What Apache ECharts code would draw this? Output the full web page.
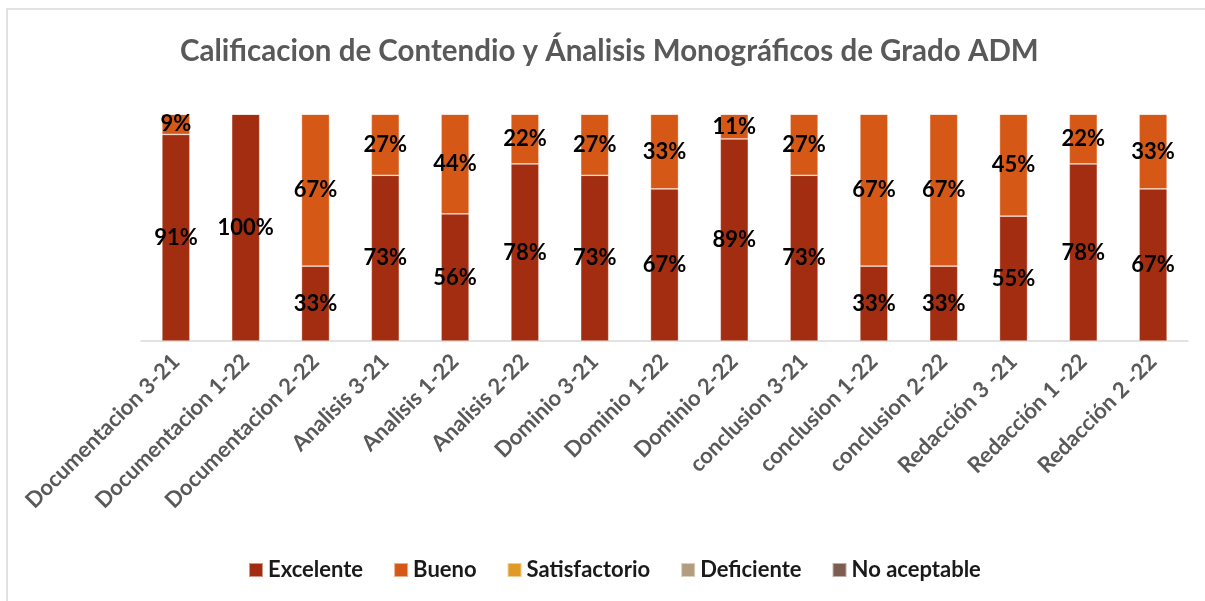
<!DOCTYPE html>
<html>
<head>
<meta charset="utf-8">
<script src="https://cdn.jsdelivr.net/npm/echarts@6/dist/echarts.min.js"></script>
<style>html,body{margin:0;padding:0;background:#fff;}#c{width:1205px;height:601px;}</style>
</head>
<body>
<div id="c"></div>
<script>
const categories = ['Documentacion 3-21','Documentacion 1-22','Documentacion 2-22','Analisis 3-21','Analisis 1-22','Analisis 2-22','Dominio 3-21','Dominio 1-22','Dominio 2-22','conclusion 3-21','conclusion 1-22','conclusion 2-22','Redacción 3 -21','Redacción 1 -22','Redacción 2 -22'];
const excelente = [91,100,33,73,56,78,73,67,89,73,33,33,55,78,67];
const bueno = [9,0,67,27,44,22,27,33,11,27,67,67,45,22,33];
const satisfactorio = [0,0,0,0,0,0,0,0,0,0,0,0,0,0,0];
const deficiente = [0,0,0,0,0,0,0,0,0,0,0,0,0,0,0];
const noAceptable = [0,0,0,0,0,0,0,0,0,0,0,0,0,0,0];
const seriesNames = ['Excelente','Bueno','Satisfactorio','Deficiente','No aceptable'];
const seriesData = [excelente,bueno,satisfactorio,deficiente,noAceptable];
const colors = ['#A32D10','#D55817','#E29A26','#B29E7F','#7E5D51'];
const FONT = 'Lato';

const chart = echarts.init(document.getElementById('c'));
chart.setOption({
  animation:false,
  color: colors,
  graphic:[{type:'rect',shape:{x:7,y:9,width:1300,height:700},style:{fill:'none',stroke:'#d9d9d9',lineWidth:1.5},silent:true}],
  title:{text:'Calificacion de Contendio y Ánalisis Monográficos de Grado ADM',left:175,top:31,
    textStyle:{fontFamily:FONT,fontWeight:'bold',fontSize:29.5,color:'#595959'}},
  legend:{bottom:15,left:243,itemWidth:14,itemHeight:14,itemGap:30,icon:'rect',
    textStyle:{fontFamily:FONT,fontWeight:'bold',fontSize:22,color:'#1a1a1a'}},
  grid:{left:141,right:17,top:114,bottom:260},
  xAxis:{type:'category',data:categories,
    axisLine:{lineStyle:{color:'#d9d9d9',width:1.5}},axisTick:{show:false},
    axisLabel:{interval:0,rotate:45,margin:17,fontFamily:FONT,fontWeight:'bold',fontSize:22,color:'#595959'}},
  yAxis:{type:'value',min:0,max:100,show:false,splitLine:{show:false}},
  series: seriesNames.map((n,i)=>({
    name:n,type:'bar',stack:'total',barWidth:28,data:seriesData[i],
    itemStyle:{borderColor:'rgba(255,255,255,0.5)',borderWidth:0.7},
    label:{show:true,position:'inside',fontFamily:FONT,fontWeight:'bold',fontSize:22,color:'#000',
      formatter:p=>p.value>0?p.value+'%':''}
  }))
});
</script>
</body>
</html>
